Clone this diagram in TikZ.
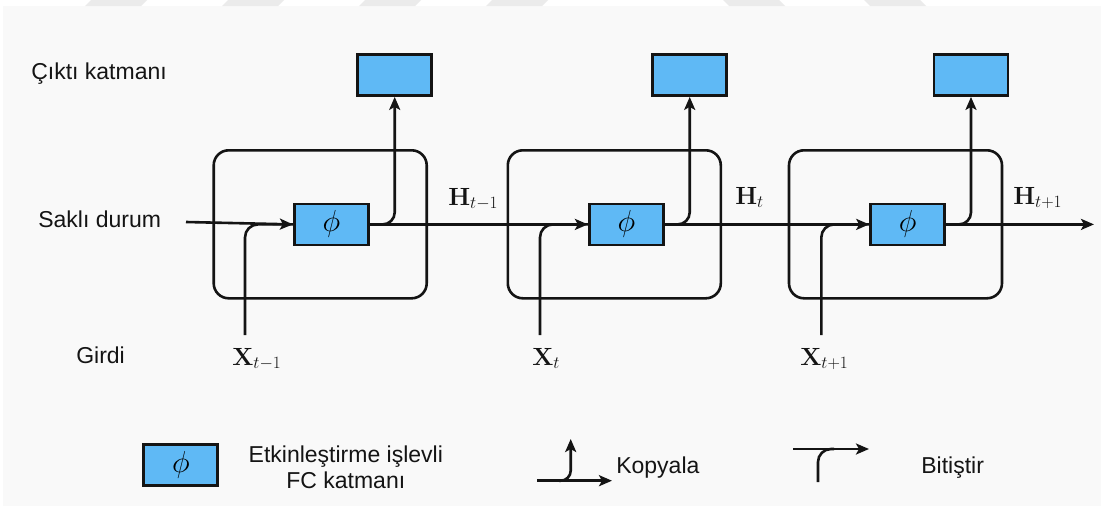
\documentclass[tikz,border=0pt]{standalone}
\usepackage[no-math]{fontspec}
\setmainfont{Liberation Sans}
\usetikzlibrary{arrows.meta}

\definecolor{fcblue}{RGB}{95,185,245}
\definecolor{pagebg}{RGB}{249,249,249}
\definecolor{stripe}{RGB}{235,235,235}
\definecolor{ink}{RGB}{20,20,20}

\newcommand{\actphi}{\scalebox{1.22}{$\phi$}}

\begin{document}
\begin{tikzpicture}[x=1pt, y=-1pt,
  line width=2.6pt, draw=ink,
  tip/.style={-{Stealth[length=13pt,width=11pt,inset=3pt]}},
  cellbox/.style={draw, rounded corners=15pt, minimum width=213pt, minimum height=148pt, inner sep=0pt},
  layer/.style={draw, fill=fcblue, line width=2.8pt, minimum width=74pt, minimum height=41pt, inner sep=0pt, font=\fontsize{24}{28}\selectfont},
  outbox/.style={draw, fill=fcblue, line width=2.8pt, minimum width=74pt, minimum height=41pt, inner sep=0pt},
  lbl/.style={inner sep=0pt, text=ink, font=\fontsize{23}{26}\selectfont},
  var/.style={inner sep=0pt, text=ink, font=\fontsize{24}{28}\selectfont},
  joinline/.style={rounded corners=13pt},
  forkline/.style={rounded corners=12pt, tip}
]
\useasboundingbox (0,0) rectangle (1101,506);
\fill[white] (0,0) rectangle (1101,506);
\fill[pagebg] (3,6) rectangle (1101,506);
% faint marks along the top margin
\foreach \a in {91,228,365,492} {
  \fill[stripe] (\a,0) -- (\a+56,0) -- (\a+50,6) -- (\a-6,6) -- cycle;
}
\foreach \a in {723,864} {
  \fill[stripe] (\a,0) -- (\a+56,0) -- (\a+62,6) -- (\a+6,6) -- cycle;
}

% side labels
\node[lbl, anchor=base west] (outlbl) at (30,79) {Çıktı katmanı};
\node[lbl, anchor=base west] (hidlbl) at (37,227) {Saklı durum};
\node[lbl, anchor=base west] (inlbl) at (75,363) {Girdi};

% recurrent cells
\node[cellbox] (c1) at (320.2,224.3) {};
\node[cellbox] (c2) at (614.3,224.3) {};
\node[cellbox] (c3) at (895.5,224.3) {};

% FC layers with activation
\node[layer] (p1) at (331.3,224.4) {\actphi};
\node[layer] (p2) at (626.3,224.4) {\actphi};
\node[layer] (p3) at (907.6,224.4) {\actphi};

% output layers
\node[outbox] (o1) at (394.7,75) {};
\node[outbox] (o2) at (689.7,75) {};
\node[outbox] (o3) at (971,75) {};

% hidden state chain
\coordinate (h0) at (186,222);
\coordinate (hend) at (1094,224.4);
\draw[tip] (h0) -- (p1.west);
\draw[tip] (p1.east) -- (p2.west);
\draw[tip] (p2.east) -- (p3.west);
\draw[tip] (p3.east) -- (hend);

% inputs joining the hidden state
\coordinate (x1) at (245,335);
\coordinate (x2) at (540,335);
\coordinate (x3) at (821.3,335);
\draw[joinline] (x1) |- (p1.west);
\draw[joinline] (x2) |- (p2.west);
\draw[joinline] (x3) |- (p3.west);

% copies up to the output layers
\draw[forkline] (p1.east) -| (o1.south);
\draw[forkline] (p2.east) -| (o2.south);
\draw[forkline] (p3.east) -| (o3.south);

% state and input labels
\node[var, anchor=base west] (H1) at (447,205) {$\mathbf{H}_{t-1}$};
\node[var, anchor=base west] (H2) at (734,204) {$\mathbf{H}_{t}$};
\node[var, anchor=base west] (H3) at (1012,204) {$\mathbf{H}_{t+1}$};
\node[var, anchor=base west] (X1) at (231,365) {$\mathbf{X}_{t-1}$};
\node[var, anchor=base west] (X2) at (531,365) {$\mathbf{X}_{t}$};
\node[var, anchor=base west] (X3) at (799,365) {$\mathbf{X}_{t+1}$};

% legend
\node[layer] (lp) at (180.8,464.7) {\actphi};
\node[lbl, anchor=base] (leg1) at (345.8,462.7) {Etkinleştirme işlevli};
\node[lbl, anchor=base] (leg2) at (345.8,488.7) {FC katmanı};

\coordinate (ka) at (537,480.7);
\coordinate (kb) at (612,480.7);
\coordinate (kc) at (559,480.7);
\coordinate (kd) at (570.7,439);
\draw[tip] (ka) -- (kb);
\draw[rounded corners=10pt, tip] (kc) -| (kd);
\node[lbl, anchor=base west] (kop) at (615,473.3) {Kopyala};

\coordinate (ba) at (793,449);
\coordinate (bb) at (869,449);
\coordinate (bc) at (818,482);
\coordinate (bd) at (834,449);
\draw[tip] (ba) -- (bb);
\draw[joinline] (bc) |- (bd);
\node[lbl, anchor=base west] (bit) at (920,473.3) {Bitiştir};
\end{tikzpicture}
\end{document}
